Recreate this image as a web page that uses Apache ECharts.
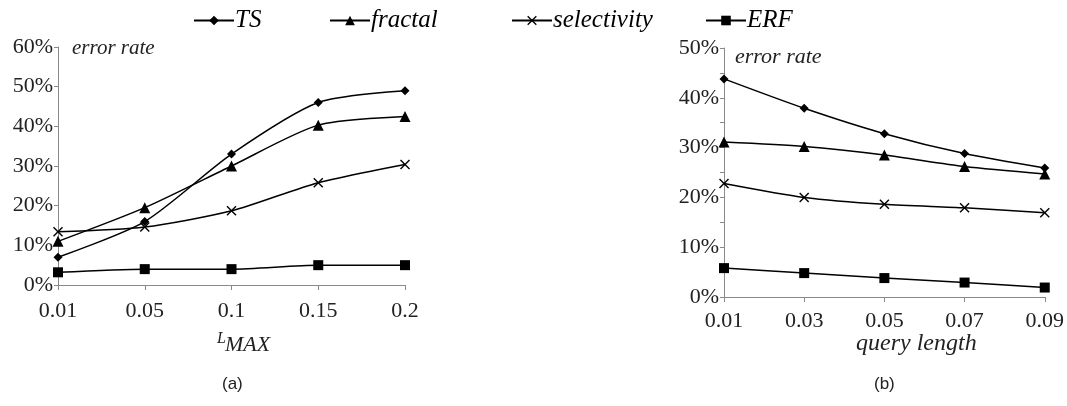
<!DOCTYPE html>
<html>
<head>
<meta charset="utf-8">
<script src="https://cdn.jsdelivr.net/npm/echarts@6/dist/echarts.min.js"></script>
<style>
  html, body { margin: 0; padding: 0; background: #fff; }
  #chart { width: 1067px; height: 406px; }
</style>
</head>
<body>
<div id="chart"></div>
<script>
// panel (a): error rate vs L_MAX
var lmaxLabels = ['0.01', '0.05', '0.1', '0.15', '0.2'];
var tsA = [7, 16, 33, 46, 49];
var fractalA = [11, 19.5, 30, 40.3, 42.5];
var selectivityA = [13.4, 14.6, 18.7, 25.8, 30.4];
var erfA = [3.2, 4, 4, 5, 5];

// panel (b): error rate vs query length
var queryLabels = ['0.01', '0.03', '0.05', '0.07', '0.09'];
var tsB = [43.8, 37.9, 32.8, 28.8, 25.9];
var fractalB = [31.1, 30.2, 28.5, 26.2, 24.7];
var selectivityB = [22.8, 20, 18.6, 17.9, 16.9];
var erfB = [5.8, 4.8, 3.8, 2.9, 1.9];

var seriesNames = ['TS', 'fractal', 'selectivity', 'ERF'];
// legend columns are not evenly spaced in the original
var legendLefts = [188, 324, 506, 700];

var SERIF = '"Liberation Serif", "DejaVu Serif", serif';
var SANS = '"Liberation Sans", Arial, sans-serif';
var crossPath = 'path://M0,1L1,0L5,4L9,0L10,1L6,5L10,9L9,10L5,6L1,10L0,9L4,5Z';
var symbols = ['diamond', 'triangle', crossPath, 'rect'];
var symbolSizes = [9, 11, 10, 10];

var chart = echarts.init(document.getElementById('chart'));

function axisX(idx, labels, margin) {
  return {
    type: 'category',
    gridIndex: idx,
    data: labels,
    boundaryGap: false,
    axisLine: {lineStyle: {color: '#8a8a8a', width: 1}},
    axisTick: {show: true, length: 5, alignWithLabel: true, lineStyle: {color: '#8a8a8a'}},
    axisLabel: {color: '#222', fontFamily: SERIF, fontSize: 22, margin: margin},
    splitLine: {show: false}
  };
}

function axisY(idx, max, minor) {
  return {
    type: 'value',
    gridIndex: idx,
    min: 0,
    max: max,
    interval: 10,
    axisLine: {show: true, lineStyle: {color: '#8a8a8a', width: 1}},
    axisTick: {show: true, length: 4, lineStyle: {color: '#8a8a8a'}},
    minorTick: {show: minor, splitNumber: 2, length: 4, lineStyle: {color: '#8a8a8a'}},
    axisLabel: {color: '#222', fontFamily: SERIF, fontSize: 22, margin: 5, formatter: '{value}%'},
    splitLine: {show: false}
  };
}

function makeSeries(axisIdx, values, si) {
  return {
    name: seriesNames[si],
    type: 'line',
    xAxisIndex: axisIdx,
    yAxisIndex: axisIdx,
    data: values,
    smooth: 0.25,
    symbol: symbols[si],
    symbolSize: symbolSizes[si],
    showAllSymbol: true,
    lineStyle: {color: '#000', width: 1.5},
    itemStyle: {color: '#000'},
    emphasis: {disabled: true},
    animation: false
  };
}

var legends = seriesNames.map(function (name, i) {
  return {
    data: [name],
    top: 3,
    left: legendLefts[i],
    itemWidth: 40,
    itemHeight: 12,
    textStyle: {fontFamily: SERIF, fontStyle: 'italic', fontSize: 25, color: '#000', padding: [0, 0, 0, -4]}
  };
});

function label(text, left, top, size, family, italic) {
  return {
    type: 'text', left: left, top: top,
    style: {text: text, fontFamily: family, fontStyle: italic ? 'italic' : 'normal', fontSize: size, fill: '#222'}
  };
}

var option = {
  backgroundColor: '#fff',
  animation: false,
  legend: legends,
  grid: [
    {left: 58, right: 662, top: 47, bottom: 121},
    {left: 724, right: 14, top: 48, bottom: 109}
  ],
  xAxis: [axisX(0, lmaxLabels, 15), axisX(1, queryLabels, 13)],
  yAxis: [axisY(0, 60, false), axisY(1, 50, true)],
  series: [
    makeSeries(0, tsA, 0),
    makeSeries(0, fractalA, 1),
    makeSeries(0, selectivityA, 2),
    makeSeries(0, erfA, 3),
    makeSeries(1, tsB, 0),
    makeSeries(1, fractalB, 1),
    makeSeries(1, selectivityB, 2),
    makeSeries(1, erfB, 3)
  ],
  graphic: [
    label('error rate', 72, 38, 21, SERIF, true),
    label('error rate', 735, 46, 22, SERIF, true),
    label('L', 217, 331, 16, SERIF, true),
    label('MAX', 225, 334, 22, SERIF, true),
    label('query length', 856, 332, 24, SERIF, true),
    label('(a)', 222, 376, 17, SANS, false),
    label('(b)', 874, 376, 17, SANS, false)
  ]
};

chart.setOption(option);
</script>
</body>
</html>
